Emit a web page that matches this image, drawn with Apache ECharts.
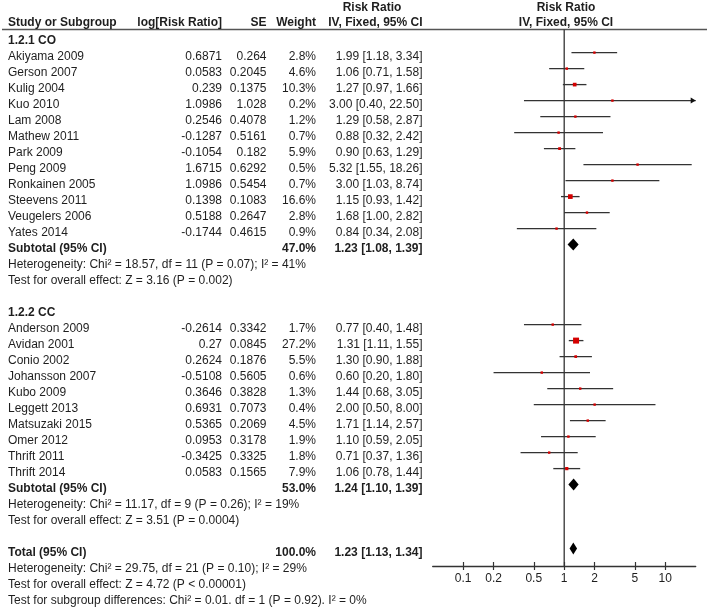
<!DOCTYPE html>
<html><head><meta charset="utf-8">
<script src="https://cdn.jsdelivr.net/npm/echarts@6/dist/echarts.min.js"></script>
<style>html,body{margin:0;padding:0;background:#fff}#c{width:709px;height:609px}</style>
</head><body><div id="c"></div>
<script>
// ---------------- DATA ----------------
const groupTitles = ["1.2.1 CO", "1.2.2 CC"];
const studyGroup = [0,0,0,0,0,0,0,0,0,0,0,0, 1,1,1,1,1,1,1,1,1,1];
const studyNames = ["Akiyama 2009","Gerson 2007","Kulig 2004","Kuo 2010","Lam 2008","Mathew 2011","Park 2009","Peng 2009","Ronkainen 2005","Steevens 2011","Veugelers 2006","Yates 2014",
  "Anderson 2009","Avidan 2001","Conio 2002","Johansson 2007","Kubo 2009","Leggett 2013","Matsuzaki 2015","Omer 2012","Thrift 2011","Thrift 2014"];
const logRR = ["0.6871","0.0583","0.239","1.0986","0.2546","-0.1287","-0.1054","1.6715","1.0986","0.1398","0.5188","-0.1744",
  "-0.2614","0.27","0.2624","-0.5108","0.3646","0.6931","0.5365","0.0953","-0.3425","0.0583"];
const seValues = ["0.264","0.2045","0.1375","1.028","0.4078","0.5161","0.182","0.6292","0.5454","0.1083","0.2647","0.4615",
  "0.3342","0.0845","0.1876","0.5605","0.3828","0.7073","0.2069","0.3178","0.3325","0.1565"];
const weights = [2.8,4.6,10.3,0.2,1.2,0.7,5.9,0.5,0.7,16.6,2.8,0.9, 1.7,27.2,5.5,0.6,1.3,0.4,4.5,1.9,1.8,7.9];
const riskRatio = [1.99,1.06,1.27,3.00,1.29,0.88,0.90,5.32,3.00,1.15,1.68,0.84, 0.77,1.31,1.30,0.60,1.44,2.00,1.71,1.10,0.71,1.06];
const ciLow = [1.18,0.71,0.97,0.40,0.58,0.32,0.63,1.55,1.03,0.93,1.00,0.34, 0.40,1.11,0.90,0.20,0.68,0.50,1.14,0.59,0.37,0.78];
const ciHigh = [3.34,1.58,1.66,22.50,2.87,2.42,1.29,18.26,8.74,1.42,2.82,2.08, 1.48,1.55,1.88,1.80,3.05,8.00,2.57,2.05,1.36,1.44];

const subtotalLabel = "Subtotal (95% CI)";
const subtotalWeight = ["47.0%", "53.0%"];
const subtotalRR = [1.23, 1.24];
const subtotalLow = [1.08, 1.10];
const subtotalHigh = [1.39, 1.39];
const groupNotes = [
  ["Heterogeneity: Chi² = 18.57, df = 11 (P = 0.07); I² = 41%", "Test for overall effect: Z = 3.16 (P = 0.002)"],
  ["Heterogeneity: Chi² = 11.17, df = 9 (P = 0.26); I² = 19%", "Test for overall effect: Z = 3.51 (P = 0.0004)"]
];
const totalLabel = "Total (95% CI)";
const totalWeight = "100.0%";
const totalRR = 1.23, totalLow = 1.13, totalHigh = 1.34;
const totalNotes = [
  "Heterogeneity: Chi² = 29.75, df = 21 (P = 0.10); I² = 29%",
  "Test for overall effect: Z = 4.72 (P < 0.00001)",
  "Test for subgroup differences: Chi² = 0.01. df = 1 (P = 0.92). I² = 0%"
];
const headerLabels = ["Study or Subgroup", "log[Risk Ratio]", "SE", "Weight", "IV, Fixed, 95% CI"];
const headerTitle = "Risk Ratio";
const tickValues = [0.1, 0.2, 0.5, 1, 2, 5, 10];
const tickLabels = ["0.1", "0.2", "0.5", "1", "2", "5", "10"];
const axisMin = 0.05, axisMax = 20;

// ---------------- LAYOUT ----------------
const W = 709, H = 609;
const ROW_H = 16, ROW0_Y = 40.6, MARK_SHIFT = 4;
const PLOT_LEFT = 432.7, PLOT_RIGHT = 695.7, PLOT_TOP = 29.5, AXIS_Y = 566;
const COL = { name: 8, log: 222, se: 266.5, weight: 316, ci: 422.5, ciHead: 372, plotHead: 566 };
const HEAD_TITLE_Y = 7.5, HEAD_Y = 22.5, RULE_Y = 29.5;
const TEXT_COLOR = '#1e1e1e', LINE_COLOR = '#333333', BOX_COLOR = '#d40000';
const FONT_FAMILY = "'Liberation Sans', Arial, Helvetica, sans-serif";
const rowOf = y => (y - ROW0_Y) / ROW_H;

const f2 = v => v.toFixed(2);
const ciText = (m, l, h) => `${f2(m)} [${f2(l)}, ${f2(h)}]`;

const cells = [];
const studyMarks = [];
const diamonds = [];
function cell(x, r, text, align, bold) { cells.push({ x, r, text, align, bold }); }

// headers
cell(COL.ciHead, rowOf(HEAD_TITLE_Y), headerTitle, 'center', true);
cell(COL.plotHead, rowOf(HEAD_TITLE_Y), headerTitle, 'center', true);
cell(COL.name, rowOf(HEAD_Y), headerLabels[0], 'left', true);
cell(COL.log, rowOf(HEAD_Y), headerLabels[1], 'right', true);
cell(COL.se, rowOf(HEAD_Y), headerLabels[2], 'right', true);
cell(COL.weight, rowOf(HEAD_Y), headerLabels[3], 'right', true);
cell(COL.ci, rowOf(HEAD_Y), headerLabels[4], 'right', true);
cell(COL.plotHead, rowOf(HEAD_Y), headerLabels[4], 'center', true);

let r = 0;
for (let g = 0; g < groupTitles.length; g++) {
  cell(COL.name, r, groupTitles[g], 'left', true); r++;
  for (let i = 0; i < studyNames.length; i++) {
    if (studyGroup[i] !== g) continue;
    cell(COL.name, r, studyNames[i], 'left', false);
    cell(COL.log, r, logRR[i], 'right', false);
    cell(COL.se, r, seValues[i], 'right', false);
    cell(COL.weight, r, weights[i].toFixed(1) + '%', 'right', false);
    cell(COL.ci, r, ciText(riskRatio[i], ciLow[i], ciHigh[i]), 'right', false);
    studyMarks.push([riskRatio[i], r, ciLow[i], ciHigh[i], weights[i]]);
    r++;
  }
  cell(COL.name, r, subtotalLabel, 'left', true);
  cell(COL.weight, r, subtotalWeight[g], 'right', true);
  cell(COL.ci, r, ciText(subtotalRR[g], subtotalLow[g], subtotalHigh[g]), 'right', true);
  diamonds.push([subtotalRR[g], r, subtotalLow[g], subtotalHigh[g]]);
  r++;
  for (const n of groupNotes[g]) { cell(COL.name, r, n, 'left', false); r++; }
  r++;
}
cell(COL.name, r, totalLabel, 'left', true);
cell(COL.weight, r, totalWeight, 'right', true);
cell(COL.ci, r, ciText(totalRR, totalLow, totalHigh), 'right', true);
diamonds.push([totalRR, r, totalLow, totalHigh]);
r++;
for (const n of totalNotes) { cell(COL.name, r, n, 'left', false); r++; }

const markTopRow = (PLOT_TOP - (ROW0_Y - MARK_SHIFT)) / ROW_H;
const markBottomRow = (AXIS_Y - (ROW0_Y - MARK_SHIFT)) / ROW_H;

const chart = echarts.init(document.getElementById('c'), null, { renderer: 'canvas' });
const tickFmt = v => {
  for (let i = 0; i < tickValues.length; i++) if (Math.abs(v - tickValues[i]) / tickValues[i] < 1e-6) return tickLabels[i];
  return '';
};
const logAxisBase = {
  type: 'log', logBase: 10, min: axisMin, max: axisMax, gridIndex: 1,
  splitLine: { show: false }, minorTick: { show: false }
};

chart.setOption({
  animation: false,
  backgroundColor: '#ffffff',
  grid: [
    { left: 0, top: 0, width: W, height: H, containLabel: false, outerBoundsMode: 'none' },
    { left: PLOT_LEFT, top: PLOT_TOP, width: PLOT_RIGHT - PLOT_LEFT, height: AXIS_Y - PLOT_TOP, containLabel: false, outerBoundsMode: 'none' }
  ],
  xAxis: [
    { type: 'value', gridIndex: 0, min: 0, max: W, show: false },
    Object.assign({}, logAxisBase, {
      position: 'bottom',
      axisLine: { show: true, onZero: false, lineStyle: { color: LINE_COLOR, width: 1.3 } },
      axisTick: { show: true, inside: false, length: 4, customValues: tickValues, lineStyle: { color: LINE_COLOR, width: 1.2 } },
      axisLabel: { show: true, customValues: tickValues, formatter: tickFmt, color: TEXT_COLOR, fontSize: 12, fontFamily: FONT_FAMILY, margin: 7 }
    }),
    // upward half of the crossing ticks: a 'top' axis shifted down onto the bottom axis line
    Object.assign({}, logAxisBase, {
      position: 'top',
      offset: -(AXIS_Y - PLOT_TOP),
      axisLine: { show: false, onZero: false },
      axisTick: { show: true, inside: false, length: 4, customValues: tickValues, lineStyle: { color: LINE_COLOR, width: 1.2 } },
      axisLabel: { show: false }
    })
  ],
  yAxis: [
    { type: 'value', gridIndex: 0, min: -ROW0_Y / ROW_H, max: (H - ROW0_Y) / ROW_H, inverse: true, show: false },
    { type: 'value', gridIndex: 1, min: markTopRow, max: markBottomRow, inverse: true, show: false, axisLine: { onZero: false } }
  ],
  series: [
    // header rule
    {
      type: 'line', xAxisIndex: 0, yAxisIndex: 0, symbol: 'none', silent: true,
      lineStyle: { color: '#555', width: 1.5 },
      data: [[2, rowOf(RULE_Y)], [W - 2, rowOf(RULE_Y)]], z: 1
    },
    // line of no effect
    {
      type: 'line', xAxisIndex: 1, yAxisIndex: 1, symbol: 'none', silent: true,
      lineStyle: { color: LINE_COLOR, width: 1.3 },
      data: [[1, markTopRow], [1, markBottomRow]], z: 2
    },
    // table text
    {
      type: 'custom', xAxisIndex: 0, yAxisIndex: 0, silent: true, z: 5,
      data: cells.map(c => [c.x, c.r]),
      renderItem: (params, api) => {
        const c = cells[params.dataIndex];
        const p = api.coord([api.value(0), api.value(1)]);
        return {
          type: 'text', x: p[0], y: p[1],
          style: {
            text: c.text, fill: TEXT_COLOR, align: c.align, verticalAlign: 'middle',
            font: `${c.bold ? 'bold ' : ''}12px ${FONT_FAMILY}`
          }
        };
      }
    },
    // study CIs and boxes
    {
      type: 'custom', xAxisIndex: 1, yAxisIndex: 1, silent: true, z: 6, clip: false,
      encode: { x: [0, 2, 3], y: 1 },
      data: studyMarks,
      renderItem: (params, api) => {
        const row = api.value(1);
        const lo = Math.max(api.value(2), axisMin), hi = Math.min(api.value(3), axisMax);
        const pm = api.coord([api.value(0), row]);
        const x1 = api.coord([lo, row])[0], x2 = api.coord([hi, row])[0];
        const y = pm[1];
        const s = Math.max(2.4, 1.15 * Math.sqrt(api.value(4)));
        const children = [
          { type: 'line', shape: { x1, y1: y, x2, y2: y }, style: { stroke: LINE_COLOR, lineWidth: 1.3 } }
        ];
        if (api.value(3) > axisMax) {
          children.push({ type: 'polygon', shape: { points: [[x2, y], [x2 - 5, y - 3], [x2 - 5, y + 3]] }, style: { fill: '#111' } });
        }
        children.push({ type: 'rect', shape: { x: pm[0] - s / 2, y: y - s / 2, width: s, height: s }, style: { fill: BOX_COLOR } });
        return { type: 'group', children };
      }
    },
    // pooled diamonds
    {
      type: 'custom', xAxisIndex: 1, yAxisIndex: 1, silent: true, z: 6,
      encode: { x: [0, 2, 3], y: 1 },
      data: diamonds,
      renderItem: (params, api) => {
        const row = api.value(1);
        const pm = api.coord([api.value(0), row]);
        const xl = api.coord([api.value(2), row])[0], xr = api.coord([api.value(3), row])[0];
        const y = pm[1], h = 6;
        return {
          type: 'polygon',
          shape: { points: [[xl, y], [pm[0], y - h], [xr, y], [pm[0], y + h]] },
          style: { fill: '#000' }
        };
      }
    }
  ]
});
</script>
</body></html>
